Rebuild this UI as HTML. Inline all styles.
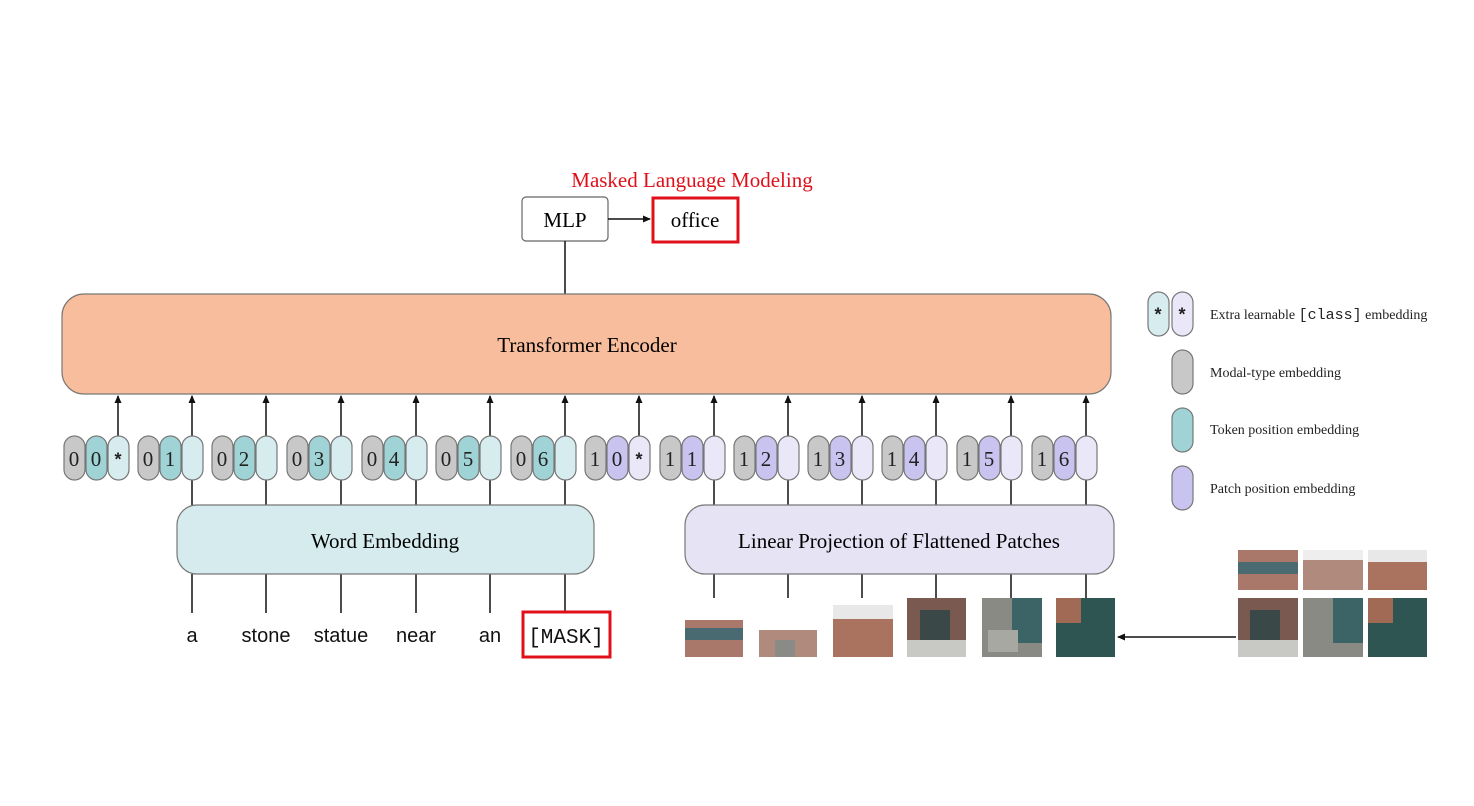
<!DOCTYPE html>
<html><head><meta charset="utf-8"><style>body{margin:0;background:#fff}svg{display:block}</style></head><body>
<svg width="1474" height="806" viewBox="0 0 1474 806" xmlns="http://www.w3.org/2000/svg" font-family="Liberation Serif, serif">
<defs><marker id="ah" markerWidth="8" markerHeight="8" refX="7" refY="4" orient="auto" markerUnits="userSpaceOnUse"><path d="M0,0.5 L8,4 L0,7.5 z" fill="#111"/></marker></defs>
<text x="692" y="187" text-anchor="middle" font-size="21" fill="#e0101a">Masked Language Modeling</text>
<rect x="522" y="197" width="86" height="44" rx="4" fill="#fff" stroke="#666" stroke-width="1.2"/>
<text x="565" y="227" text-anchor="middle" font-size="21">MLP</text>
<line x1="608" y1="219" x2="650" y2="219" stroke="#111" stroke-width="1.5" marker-end="url(#ah)"/>
<rect x="653" y="198" width="85" height="44" fill="#fff" stroke="#e0101a" stroke-width="3"/>
<text x="695" y="227" text-anchor="middle" font-size="21">office</text>
<line x1="565" y1="241" x2="565" y2="294" stroke="#111" stroke-width="1.5"/>
<rect x="62" y="294" width="1049" height="100" rx="22" fill="#f8bd9c" stroke="#777" stroke-width="1.2"/>
<text x="587" y="352" text-anchor="middle" font-size="21">Transformer Encoder</text>
<g stroke="#111" stroke-width="1.5" marker-end="url(#ah)">
<line x1="118" y1="436" x2="118" y2="396"/><line x1="192" y1="436" x2="192" y2="396"/><line x1="266" y1="436" x2="266" y2="396"/><line x1="341" y1="436" x2="341" y2="396"/><line x1="416" y1="436" x2="416" y2="396"/><line x1="490" y1="436" x2="490" y2="396"/><line x1="565" y1="436" x2="565" y2="396"/><line x1="639" y1="436" x2="639" y2="396"/><line x1="714" y1="436" x2="714" y2="396"/><line x1="788" y1="436" x2="788" y2="396"/><line x1="862" y1="436" x2="862" y2="396"/><line x1="936" y1="436" x2="936" y2="396"/><line x1="1011" y1="436" x2="1011" y2="396"/><line x1="1086" y1="436" x2="1086" y2="396"/>
</g>
<g stroke="#111" stroke-width="1.5">
<line x1="192" y1="480" x2="192" y2="505"/><line x1="266" y1="480" x2="266" y2="505"/><line x1="341" y1="480" x2="341" y2="505"/><line x1="416" y1="480" x2="416" y2="505"/><line x1="490" y1="480" x2="490" y2="505"/><line x1="565" y1="480" x2="565" y2="505"/>
<line x1="714" y1="480" x2="714" y2="505"/><line x1="788" y1="480" x2="788" y2="505"/><line x1="862" y1="480" x2="862" y2="505"/><line x1="936" y1="480" x2="936" y2="505"/><line x1="1011" y1="480" x2="1011" y2="505"/><line x1="1086" y1="480" x2="1086" y2="505"/>
<line x1="192" y1="574" x2="192" y2="613"/><line x1="266" y1="574" x2="266" y2="613"/><line x1="341" y1="574" x2="341" y2="613"/><line x1="416" y1="574" x2="416" y2="613"/><line x1="490" y1="574" x2="490" y2="613"/><line x1="565" y1="574" x2="565" y2="612"/>
<line x1="714" y1="574" x2="714" y2="598"/><line x1="788" y1="574" x2="788" y2="598"/><line x1="862" y1="574" x2="862" y2="598"/><line x1="936" y1="574" x2="936" y2="605"/><line x1="1011" y1="574" x2="1011" y2="605"/><line x1="1086" y1="574" x2="1086" y2="605"/>
</g>
<g stroke="#777" stroke-width="1.2">
<!-- text groups -->
<rect x="64" y="436" width="21" height="44" rx="10.5" fill="#c8c8c8"/><rect x="86" y="436" width="21" height="44" rx="10.5" fill="#9fd3d6"/><rect x="108" y="436" width="21" height="44" rx="10.5" fill="#d6ecef"/>
<rect x="138" y="436" width="21" height="44" rx="10.5" fill="#c8c8c8"/><rect x="160" y="436" width="21" height="44" rx="10.5" fill="#9fd3d6"/><rect x="182" y="436" width="21" height="44" rx="10.5" fill="#d6ecef"/>
<rect x="212" y="436" width="21" height="44" rx="10.5" fill="#c8c8c8"/><rect x="234" y="436" width="21" height="44" rx="10.5" fill="#9fd3d6"/><rect x="256" y="436" width="21" height="44" rx="10.5" fill="#d6ecef"/>
<rect x="287" y="436" width="21" height="44" rx="10.5" fill="#c8c8c8"/><rect x="309" y="436" width="21" height="44" rx="10.5" fill="#9fd3d6"/><rect x="331" y="436" width="21" height="44" rx="10.5" fill="#d6ecef"/>
<rect x="362" y="436" width="21" height="44" rx="10.5" fill="#c8c8c8"/><rect x="384" y="436" width="21" height="44" rx="10.5" fill="#9fd3d6"/><rect x="406" y="436" width="21" height="44" rx="10.5" fill="#d6ecef"/>
<rect x="436" y="436" width="21" height="44" rx="10.5" fill="#c8c8c8"/><rect x="458" y="436" width="21" height="44" rx="10.5" fill="#9fd3d6"/><rect x="480" y="436" width="21" height="44" rx="10.5" fill="#d6ecef"/>
<rect x="511" y="436" width="21" height="44" rx="10.5" fill="#c8c8c8"/><rect x="533" y="436" width="21" height="44" rx="10.5" fill="#9fd3d6"/><rect x="555" y="436" width="21" height="44" rx="10.5" fill="#d6ecef"/>
<!-- image groups -->
<rect x="585" y="436" width="21" height="44" rx="10.5" fill="#c8c8c8"/><rect x="607" y="436" width="21" height="44" rx="10.5" fill="#c9c3ef"/><rect x="629" y="436" width="21" height="44" rx="10.5" fill="#e9e7f8"/>
<rect x="660" y="436" width="21" height="44" rx="10.5" fill="#c8c8c8"/><rect x="682" y="436" width="21" height="44" rx="10.5" fill="#c9c3ef"/><rect x="704" y="436" width="21" height="44" rx="10.5" fill="#e9e7f8"/>
<rect x="734" y="436" width="21" height="44" rx="10.5" fill="#c8c8c8"/><rect x="756" y="436" width="21" height="44" rx="10.5" fill="#c9c3ef"/><rect x="778" y="436" width="21" height="44" rx="10.5" fill="#e9e7f8"/>
<rect x="808" y="436" width="21" height="44" rx="10.5" fill="#c8c8c8"/><rect x="830" y="436" width="21" height="44" rx="10.5" fill="#c9c3ef"/><rect x="852" y="436" width="21" height="44" rx="10.5" fill="#e9e7f8"/>
<rect x="882" y="436" width="21" height="44" rx="10.5" fill="#c8c8c8"/><rect x="904" y="436" width="21" height="44" rx="10.5" fill="#c9c3ef"/><rect x="926" y="436" width="21" height="44" rx="10.5" fill="#e9e7f8"/>
<rect x="957" y="436" width="21" height="44" rx="10.5" fill="#c8c8c8"/><rect x="979" y="436" width="21" height="44" rx="10.5" fill="#c9c3ef"/><rect x="1001" y="436" width="21" height="44" rx="10.5" fill="#e9e7f8"/>
<rect x="1032" y="436" width="21" height="44" rx="10.5" fill="#c8c8c8"/><rect x="1054" y="436" width="21" height="44" rx="10.5" fill="#c9c3ef"/><rect x="1076" y="436" width="21" height="44" rx="10.5" fill="#e9e7f8"/>
<!-- legend -->
<rect x="1148" y="292" width="21" height="44" rx="10.5" fill="#d6ecef"/><rect x="1172" y="292" width="21" height="44" rx="10.5" fill="#e9e7f8"/>
<rect x="1172" y="350" width="21" height="44" rx="10.5" fill="#c8c8c8"/>
<rect x="1172" y="408" width="21" height="44" rx="10.5" fill="#9fd3d6"/>
<rect x="1172" y="466" width="21" height="44" rx="10.5" fill="#c9c3ef"/>
</g>
<g font-size="21" text-anchor="middle" fill="#222">
<text x="74" y="466">0</text><text x="96" y="466">0</text><text x="118" y="466" font-family="Liberation Mono, monospace" font-size="18" font-weight="bold">*</text>
<text x="148" y="466">0</text><text x="170" y="466">1</text>
<text x="222" y="466">0</text><text x="244" y="466">2</text>
<text x="297" y="466">0</text><text x="319" y="466">3</text>
<text x="372" y="466">0</text><text x="394" y="466">4</text>
<text x="446" y="466">0</text><text x="468" y="466">5</text>
<text x="521" y="466">0</text><text x="543" y="466">6</text>
<text x="595" y="466">1</text><text x="617" y="466">0</text><text x="639" y="466" font-family="Liberation Mono, monospace" font-size="18" font-weight="bold">*</text>
<text x="670" y="466">1</text><text x="692" y="466">1</text>
<text x="744" y="466">1</text><text x="766" y="466">2</text>
<text x="818" y="466">1</text><text x="840" y="466">3</text>
<text x="892" y="466">1</text><text x="914" y="466">4</text>
<text x="967" y="466">1</text><text x="989" y="466">5</text>
<text x="1042" y="466">1</text><text x="1064" y="466">6</text>
<text x="1158" y="321" font-family="Liberation Mono, monospace" font-size="18" font-weight="bold">*</text><text x="1182" y="321" font-family="Liberation Mono, monospace" font-size="18" font-weight="bold">*</text>
</g>
<rect x="177" y="505" width="417" height="69" rx="20" fill="#d5ebee" stroke="#777" stroke-width="1.2"/>
<text x="385" y="548" text-anchor="middle" font-size="21">Word Embedding</text>
<rect x="685" y="505" width="429" height="69" rx="20" fill="#e6e3f5" stroke="#777" stroke-width="1.2"/>
<text x="899" y="548" text-anchor="middle" font-size="21">Linear Projection of Flattened Patches</text>
<g font-size="20" text-anchor="middle" font-family="Liberation Sans, sans-serif" fill="#111">
<text x="192" y="642">a</text><text x="266" y="642">stone</text><text x="341" y="642">statue</text><text x="416" y="642">near</text><text x="490" y="642">an</text>
<text x="566" y="643" font-family="Liberation Mono, monospace" font-size="21">[MASK]</text>
</g>
<rect x="523" y="612" width="87" height="45" fill="none" stroke="#e0101a" stroke-width="3"/>
<g font-size="14" fill="#222">
<text x="1210" y="319">Extra learnable <tspan font-family="Liberation Mono, monospace" font-size="15">[class]</tspan> embedding</text>
<text x="1210" y="377">Modal-type embedding</text>
<text x="1210" y="434">Token position embedding</text>
<text x="1210" y="493">Patch position embedding</text>
</g>
<!-- patches -->
<g>
<rect x="685" y="620" width="58" height="37" fill="#a9786a"/><rect x="685" y="628" width="58" height="12" fill="#4a6a72"/>
<rect x="759" y="630" width="58" height="27" fill="#b08a7c"/><rect x="775" y="640" width="20" height="17" fill="#8a8a86"/>
<rect x="833" y="605" width="60" height="52" fill="#a9735f"/><rect x="833" y="605" width="60" height="14" fill="#e8e8e8"/>
<rect x="907" y="598" width="59" height="59" fill="#7a5a50"/><rect x="920" y="610" width="30" height="30" fill="#3a4848"/><rect x="907" y="640" width="59" height="17" fill="#c8c8c4"/>
<rect x="982" y="598" width="60" height="59" fill="#8a8a84"/><rect x="1012" y="598" width="30" height="45" fill="#3c6466"/><rect x="988" y="630" width="30" height="22" fill="#a8a8a2"/>
<rect x="1056" y="598" width="59" height="59" fill="#2f5552"/><rect x="1056" y="598" width="25" height="25" fill="#a06a55"/>
<rect x="1238" y="550" width="60" height="40" fill="#a9786a"/><rect x="1238" y="562" width="60" height="12" fill="#4a6a72"/>
<rect x="1303" y="550" width="60" height="40" fill="#b08a7c"/><rect x="1303" y="550" width="60" height="10" fill="#eee"/>
<rect x="1368" y="550" width="59" height="40" fill="#a9735f"/><rect x="1368" y="550" width="59" height="12" fill="#e8e8e8"/>
<rect x="1238" y="598" width="60" height="59" fill="#7a5a50"/><rect x="1250" y="610" width="30" height="30" fill="#3a4848"/><rect x="1238" y="640" width="60" height="17" fill="#c8c8c4"/>
<rect x="1303" y="598" width="60" height="59" fill="#8a8a84"/><rect x="1333" y="598" width="30" height="45" fill="#3c6466"/>
<rect x="1368" y="598" width="59" height="59" fill="#2f5552"/><rect x="1368" y="598" width="25" height="25" fill="#a06a55"/>
</g>
<line x1="1236" y1="637" x2="1118" y2="637" stroke="#111" stroke-width="1.5" marker-end="url(#ah)"/>
</svg>
</body></html>
